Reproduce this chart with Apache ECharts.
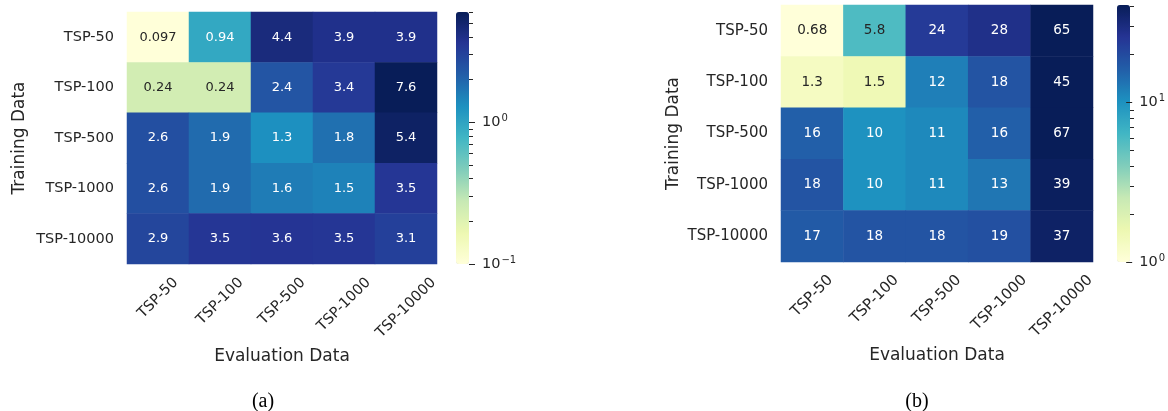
<!DOCTYPE html>
<html><head><meta charset="utf-8">
<script src="https://cdn.jsdelivr.net/npm/echarts@6/dist/echarts.min.js"></script>
<style>html,body{margin:0;padding:0;background:#fff}#c{width:1168px;height:411px}</style>
</head><body><div id="c"></div>
<script>
// ---------------- data ----------------
const evalLabels = ['TSP-50', 'TSP-100', 'TSP-500', 'TSP-1000', 'TSP-10000'];
const trainLabels = ['TSP-50', 'TSP-100', 'TSP-500', 'TSP-1000', 'TSP-10000'];
const valuesA = [
  [0.097, 0.94, 4.4, 3.9, 3.9],
  [0.24, 0.24, 2.4, 3.4, 7.6],
  [2.6, 1.9, 1.3, 1.8, 5.4],
  [2.6, 1.9, 1.6, 1.5, 3.5],
  [2.9, 3.5, 3.6, 3.5, 3.1]
];
const valuesB = [
  [0.68, 5.8, 24, 28, 65],
  [1.3, 1.5, 12, 18, 45],
  [16, 10, 11, 16, 67],
  [18, 10, 11, 13, 39],
  [17, 18, 18, 19, 37]
];
const colorRangeA = [0.1, 6];
const colorRangeB = [1, 41];
const majorTicksA = [0.1, 1];
const minorTicksA = [0.2, 0.3, 0.4, 0.5, 0.6, 0.7, 0.8, 0.9, 2, 3, 4, 5, 6];
const majorTicksB = [1, 10];
const minorTicksB = [2, 3, 4, 5, 6, 7, 8, 9, 20, 30, 40];
const captions = ['(a)', '(b)'];
const xTitle = 'Evaluation Data';
const yTitle = 'Training Data';

// ---------------- styling / helpers ----------------
const palette = ['#ffffd9', '#edf8b1', '#c7e9b4', '#7fcdbb', '#41b6c4', '#1d91c0', '#225ea8', '#253494', '#081d58'];
const FONT = 'DejaVu Sans';
const INK = '#262626';
const lg = Math.log10;

const mctx = document.createElement('canvas').getContext('2d');
function tw(s, size) { mctx.font = size + 'px "' + FONT + '"'; return mctx.measureText(s).width; }

function cells(values, range) {
  const lo = lg(range[0]), hi = lg(range[1]);
  const out = [];
  values.forEach((row, r) => row.forEach((v, c) => {
    const t = Math.min(hi, Math.max(lo, lg(v)));
    const frac = (t - lo) / (hi - lo);
    out.push({ value: [c, r, t, v], label: { color: frac < 0.5 ? INK : '#ffffff' } });
  }));
  return out;
}

function xLabel(size, margin) {
  const widths = evalLabels.map(s => tw(s, size));
  const w0 = Math.min.apply(null, widths);
  const rich = {};
  evalLabels.forEach((s, i) => {
    const p = (widths[i] - w0) / 2;
    rich['l' + i] = { fontSize: size, fontFamily: FONT, color: INK, padding: [p, p, 0, 0] };
  });
  return {
    rotate: 45, align: 'center', verticalAlign: 'middle', margin: margin,
    fontSize: size, fontFamily: FONT, color: INK,
    formatter: (v, i) => '{l' + i + '|' + v + '}', rich: rich
  };
}

function supLabel(v) {
  const e = Math.round(v);
  return '{b|10}{s|' + (e < 0 ? '\u2212' + (-e) : e) + '}';
}

const hidden = { show: false };

function heatAxes(gi, size, xMargin, xGap, yGap) {
  return {
    x: {
      type: 'category', gridIndex: gi, data: evalLabels,
      axisLine: hidden, axisTick: hidden, splitLine: hidden,
      axisLabel: xLabel(size, xMargin),
      name: xTitle, nameLocation: 'middle', nameGap: xGap,
      nameTextStyle: { fontSize: 17, fontFamily: FONT, color: INK }
    },
    y: {
      type: 'category', gridIndex: gi, data: trainLabels, inverse: true,
      axisLine: hidden, axisTick: hidden, splitLine: hidden,
      axisLabel: { margin: 13, fontSize: size, fontFamily: FONT, color: INK },
      name: yTitle, nameLocation: 'middle', nameGap: yGap, nameRotate: 90,
      nameTextStyle: { fontSize: 17, fontFamily: FONT, color: INK }
    }
  };
}

function cbarAxes(giMajor, giMinor, range, major, minor) {
  const base = { type: 'value', position: 'right', min: lg(range[0]), max: lg(range[1]),
    axisLine: { show: false, onZero: false }, splitLine: hidden, z: 10 };
  return [
    Object.assign({}, base, {
      gridIndex: giMajor,
      axisTick: { show: true, inside: false, length: 6, customValues: major.map(lg), lineStyle: { color: INK, width: 1 } },
      axisLabel: {
        show: true, margin: 13, customValues: major.map(lg), formatter: supLabel,
        rich: {
          b: { fontSize: 14.5, fontFamily: FONT, color: INK },
          s: { fontSize: 10, fontFamily: FONT, color: INK, padding: [0, 0, 8, 1] }
        }
      }
    }),
    Object.assign({}, base, {
      gridIndex: giMinor,
      axisTick: { show: true, inside: false, length: 4, customValues: minor.map(lg), lineStyle: { color: INK, width: 1 } },
      axisLabel: { show: false }
    })
  ];
}

function cbarX(gi) {
  return { type: 'category', gridIndex: gi, data: [''], show: false,
    axisLine: { show: false, onZero: false } };
}

const gA = { left: 127, top: 12, width: 310, height: 252 };
const cA = { left: 456, top: 12, width: 13, height: 252 };
const gB = { left: 781, top: 5, width: 312, height: 257 };
const cB = { left: 1117, top: 5, width: 13, height: 257 };

const axA = heatAxes(0, 14.5, 34, 82, 99);
const axB = heatAxes(3, 15, 34, 84, 99);

const option = {
  animation: false,
  backgroundColor: '#ffffff',
  title: [
    { text: captions[0], left: 263, top: 392, textAlign: 'center', padding: 0,
      textStyle: { fontFamily: 'Liberation Serif', fontSize: 20, fontWeight: 'normal', color: '#000' } },
    { text: captions[1], left: 917, top: 392, textAlign: 'center', padding: 0,
      textStyle: { fontFamily: 'Liberation Serif', fontSize: 20, fontWeight: 'normal', color: '#000' } }
  ],
  grid: [gA, Object.assign({}, cA), Object.assign({}, cA), gB, Object.assign({}, cB), Object.assign({}, cB)],
  xAxis: [axA.x, cbarX(1), cbarX(2), axB.x, cbarX(4), cbarX(5)],
  yAxis: [axA.y].concat(cbarAxes(1, 2, colorRangeA, majorTicksA, minorTicksA))
    .concat([axB.y]).concat(cbarAxes(4, 5, colorRangeB, majorTicksB, minorTicksB)),
  visualMap: [
    { type: 'continuous', seriesIndex: 0, dimension: 2, min: lg(colorRangeA[0]), max: lg(colorRangeA[1]),
      inRange: { color: palette }, calculable: false, showLabel: false, text: null,
      orient: 'vertical', left: cA.left, top: cA.top, itemWidth: cA.width, itemHeight: cA.height,
      padding: 0, itemGap: 0, z: 1 },
    { type: 'continuous', seriesIndex: 1, dimension: 2, min: lg(colorRangeB[0]), max: lg(colorRangeB[1]),
      inRange: { color: palette }, calculable: false, showLabel: false, text: null,
      orient: 'vertical', left: cB.left, top: cB.top, itemWidth: cB.width, itemHeight: cB.height,
      padding: 0, itemGap: 0, z: 1 }
  ],
  series: [
    { type: 'heatmap', xAxisIndex: 0, yAxisIndex: 0, data: cells(valuesA, colorRangeA),
      label: { show: true, fontSize: 13, fontFamily: FONT, formatter: p => String(p.value[3]) },
      itemStyle: { borderWidth: 0 }, emphasis: { disabled: true } },
    { type: 'heatmap', xAxisIndex: 3, yAxisIndex: 3, data: cells(valuesB, colorRangeB),
      label: { show: true, fontSize: 13.5, fontFamily: FONT, formatter: p => String(p.value[3]) },
      itemStyle: { borderWidth: 0 }, emphasis: { disabled: true } }
  ]
};

const chart = echarts.init(document.getElementById('c'), null, { renderer: 'canvas' });
chart.setOption(option);
</script>
</body></html>
